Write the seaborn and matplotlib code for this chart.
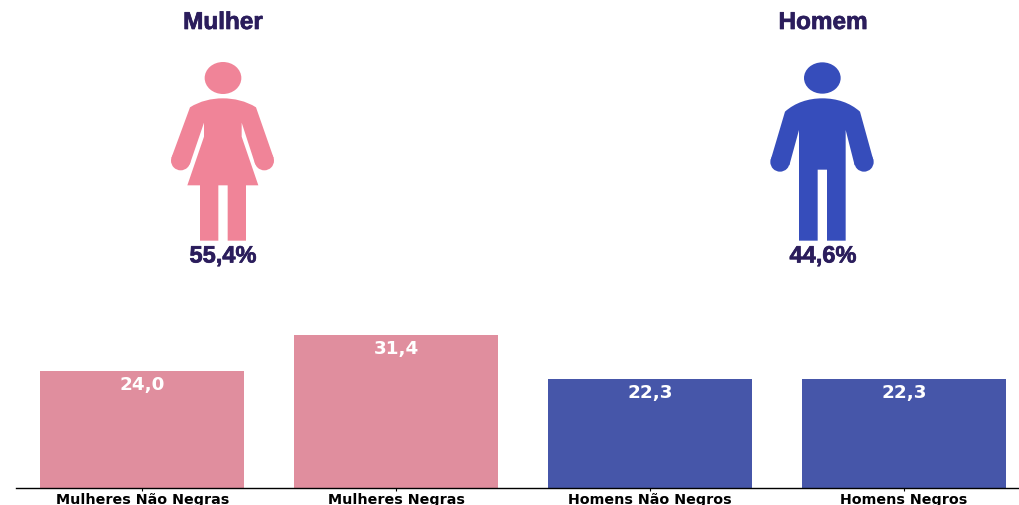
import matplotlib
matplotlib.use("Agg")
import matplotlib.pyplot as plt
from matplotlib.path import Path
from matplotlib.patches import Circle, Ellipse, PathPatch
import matplotlib.patheffects as pe
import pandas as pd
import seaborn as sns

# Data
grupos = ["Mulheres Não Negras", "Mulheres Negras", "Homens Não Negros", "Homens Negros"]
valores = [24.0, 31.4, 22.3, 22.3]
cores_barras = ["#E08E9E", "#E08E9E", "#4656A9", "#4656A9"]
sexos = ["Mulher", "Homem"]
percentuais = ["55,4%", "44,6%"]

ROXO = "#2B1D5C"
ROSA = "#F08498"
AZUL = "#364DBB"

sns.set_theme(style="white")
fig = plt.figure(figsize=(10.19, 5.06), dpi=100)

# Bars
W, H = 1019, 506
ax = fig.add_axes([15.5 / W, (H - 488.5) / H, (W - 15.5) / W, 168.5 / H])
df = pd.DataFrame({"grupo": grupos, "valor": valores})
sns.barplot(data=df, x="grupo", y="valor", hue="grupo", palette=cores_barras,
            saturation=1, legend=False, linewidth=0, width=0.804, ax=ax)
ax.set_xlim(-0.5, 3.453)
ax.set_ylim(0, 34.6)
ax.set_xlabel("")
ax.set_ylabel("")
ax.set_yticks([])
sns.despine(ax=ax, left=True)
ax.spines["bottom"].set_color("black")
ax.spines["bottom"].set_linewidth(1.0)
ax.tick_params(axis="x", bottom=True, length=2, width=0.8, color="black", pad=1.2)
for t in ax.get_xticklabels():
    t.set_fontfamily("DejaVu Sans")
    t.set_fontweight("bold")
    t.set_fontsize(10.25)
    t.set_color("black")

for i, v in enumerate(valores):
    ax.annotate(f"{v:.1f}".replace(".", ","), (i, v), xytext=(0, -9.5), textcoords="offset points",
                ha="center", va="center", color="white", fontweight="bold", fontsize=13.2,
                fontfamily="DejaVu Sans")

# Icons, drawn in pixel coordinates of the picture
icon = fig.add_axes([0, 0, 1, 1], zorder=3)
icon.set_xlim(0, W)
icon.set_ylim(H, 0)
icon.axis("off")
icon.patch.set_alpha(0)


def desenha(x0, pts, cabeca, maos, cor):
    verts = [(x0 + x / 3, y / 3 + 1) for x, y, _ in pts]
    codes = [c for _, _, c in pts]
    icon.add_patch(PathPatch(Path(verts, codes), fc=cor, ec="none"))
    cx, cy, rx, ry = cabeca
    icon.add_patch(Ellipse((x0 + cx / 3, cy / 3 + 1), 2 * rx / 3, 2 * ry / 3, fc=cor, ec="none"))
    for mx, my, r in maos:
        icon.add_patch(Circle((x0 + mx / 3, my / 3 + 1), r / 3, fc=cor, ec="none"))


M, L, C = Path.MOVETO, Path.LINETO, Path.CURVE4

mulher = [(120, 322, M), (150, 303, C), (185, 295, C), (218, 295, C),
          (252, 295, C), (288, 303, C), (318, 322, C),
          (371, 474, L), (316, 494, L), (275, 368, L), (275, 410, L), (325, 556, L),
          (288, 556, L), (288, 722, L), (233, 722, L), (233, 556, L),
          (205, 556, L), (205, 722, L), (150, 722, L), (150, 556, L),
          (112, 556, L), (162, 410, L), (162, 368, L), (119, 494, L), (64, 474, L), (120, 322, L)]

homem = [(105, 335, M), (135, 308, C), (175, 295, C), (217, 295, C),
         (260, 295, C), (300, 308, C), (330, 335, C),
         (370, 480, L), (314, 496, L), (287, 390, L), (287, 722, L), (231, 722, L),
         (231, 509, L), (203, 509, L), (203, 722, L), (147, 722, L),
         (147, 390, L), (118, 496, L), (62, 480, L), (105, 335, L)]

desenha(150, mulher, (219, 234, 55, 48), [(343, 482, 29), (92, 482, 29)], ROSA)
desenha(750, homem, (217, 234, 55, 47), [(342, 486, 29), (90, 486, 29)], AZUL)

centros = [223, 823]
grosso = [pe.withStroke(linewidth=0.5, foreground=ROXO)]
for xc, s, p in zip(centros, sexos, percentuais):
    icon.text(xc, 30, s, ha="center", va="baseline", color=ROXO, fontsize=17.5,
              fontweight="bold", fontfamily="Liberation Sans", path_effects=grosso)
    icon.text(xc, 263.5, p, ha="center", va="baseline", color=ROXO, fontsize=17,
              fontweight="bold", fontfamily="Liberation Sans", path_effects=grosso)

fig.savefig("out.png", dpi=100, facecolor="white")
